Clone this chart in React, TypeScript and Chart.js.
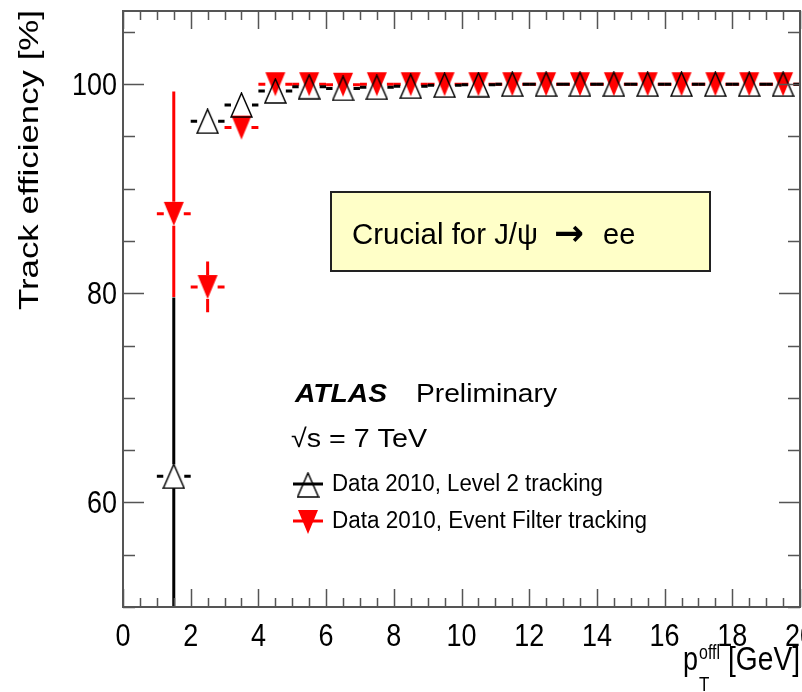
import React, { useEffect, useRef } from 'react';
import { Chart, registerables } from 'chart.js';

Chart.register(...registerables);

// ---------- data ----------
const binCenters = [1.5, 2.5, 3.5, 4.5, 5.5, 6.5, 7.5, 8.5, 9.5, 10.5, 11.5, 12.5, 13.5, 14.5, 15.5, 16.5, 17.5, 18.5, 19.5];
const binHalfWidth = 0.5;

const level2Label = 'Data 2010, Level 2 tracking';
const level2Eff = [62.5, 96.45, 98.0, 99.35, 99.75, 99.6, 99.7, 99.8, 99.9, 99.95, 100.0, 100.0, 100.0, 100.0, 100.0, 100.0, 100.0, 100.0, 100.0];
const level2ErrUp = [17.1, 0.3, 0.3, 0.2, 0.1, 0.1, 0.1, 0.1, 0.05, 0.05, 0.0, 0.0, 0.0, 0.0, 0.0, 0.0, 0.0, 0.0, 0.0];
const level2ErrDown = [15.0, 0.3, 0.3, 0.2, 0.1, 0.1, 0.1, 0.1, 0.05, 0.05, 0.05, 0.05, 0.05, 0.05, 0.05, 0.05, 0.05, 0.05, 0.05];

const efLabel = 'Data 2010, Event Filter tracking';
const efEff = [87.6, 80.6, 95.85, 100.0, 100.0, 99.95, 100.0, 100.0, 100.0, 100.0, 100.0, 100.0, 100.0, 100.0, 100.0, 100.0, 100.0, 100.0, 100.0];
const efErrUp = [11.7, 2.45, 0.3, 0.0, 0.0, 0.05, 0.0, 0.0, 0.0, 0.0, 0.0, 0.0, 0.0, 0.0, 0.0, 0.0, 0.0, 0.0, 0.0];
const efErrDown = [7.95, 2.4, 0.3, 0.1, 0.1, 0.1, 0.05, 0.05, 0.05, 0.05, 0.05, 0.05, 0.05, 0.05, 0.05, 0.05, 0.05, 0.05, 0.05];

const xMin = 0;
const xMax = 20;
const yMin = 50;
const yMax = 107;
const xTickLabels = [0, 2, 4, 6, 8, 10, 12, 14, 16, 18, 20];
const xMinorStep = 0.5;
const yTickLabels = [60, 80, 100];
const yMinorStep = 5;

const yTitle = 'Track efficiency [%]';
const boxTextLeft = 'Crucial for J/\u03c8';
const boxArrow = '\u2192';
const boxTextRight = 'ee';
const atlasText = 'ATLAS';
const prelimText = 'Preliminary';
const energyText = '\u221as = 7 TeV';

const FONT = '"Liberation Sans", Arial, Helvetica, sans-serif';
const RED = '#ff0000';
const FRAME = '#555555';

// ---------- helpers ----------
function makeTriangle(w: number, h: number, up: boolean, fill: string | null, stroke: string | null, lw: number) {
  const c = document.createElement('canvas');
  c.width = w + 2;
  c.height = h + 2;
  const g = c.getContext('2d')!;
  g.beginPath();
  if (up) {
    g.moveTo(c.width / 2, 1);
    g.lineTo(c.width - 1, c.height - 1);
    g.lineTo(1, c.height - 1);
  } else {
    g.moveTo(1, 1);
    g.lineTo(c.width - 1, 1);
    g.lineTo(c.width / 2, c.height - 1);
  }
  g.closePath();
  if (fill) {
    g.fillStyle = fill;
    g.fill();
  }
  if (stroke) {
    g.strokeStyle = stroke;
    g.lineWidth = lw;
    g.stroke();
  }
  return c;
}

function drawText(
  ctx: CanvasRenderingContext2D,
  text: string,
  x: number,
  y: number,
  font: string,
  color: string,
  targetW: number | null,
  sy = 1,
  align: CanvasTextAlign = 'left',
  rot = 0
) {
  ctx.save();
  ctx.font = font;
  const w = ctx.measureText(text).width;
  const sx = targetW ? targetW / w : 1;
  ctx.translate(x, y);
  if (rot) ctx.rotate(rot);
  ctx.scale(sx, sy);
  ctx.textAlign = align;
  ctx.textBaseline = 'alphabetic';
  ctx.fillStyle = color;
  ctx.fillText(text, 0, 0);
  ctx.restore();
}

// error bars drawn just before each dataset's markers
const errorBarPlugin = {
  id: 'rootErrorBars',
  beforeDatasetDraw(chart: any, args: any) {
    const ds = chart.data.datasets[args.index];
    const { ctx, chartArea } = chart;
    const xs = chart.scales.x;
    const ys = chart.scales.y;
    ctx.save();
    ctx.beginPath();
    ctx.rect(chartArea.left, chartArea.top, chartArea.right - chartArea.left, chartArea.bottom - chartArea.top);
    ctx.clip();
    ctx.strokeStyle = ds.errColor;
    ctx.lineWidth = 3;
    ctx.lineCap = 'butt';
    ds.data.forEach((p: any, i: number) => {
      const px = xs.getPixelForValue(p.x);
      const py = ys.getPixelForValue(p.y);
      const l = xs.getPixelForValue(p.x - binHalfWidth);
      const r = xs.getPixelForValue(p.x + binHalfWidth);
      const t = ys.getPixelForValue(p.y + ds.errUp[i]);
      const b = ys.getPixelForValue(p.y - ds.errDown[i]);
      const gx = ds.gapX;
      const gy = ds.gapY;
      ctx.beginPath();
      if (px - gx > l) {
        ctx.moveTo(l, py);
        ctx.lineTo(px - gx, py);
      }
      if (r > px + gx) {
        ctx.moveTo(px + gx, py);
        ctx.lineTo(r, py);
      }
      if (py - gy > t) {
        ctx.moveTo(px, t);
        ctx.lineTo(px, py - gy);
      }
      if (b > py + gy) {
        ctx.moveTo(px, py + gy);
        ctx.lineTo(px, b);
      }
      ctx.stroke();
    });
    ctx.restore();
  },
};

const framePlugin = {
  id: 'rootFrame',
  afterDraw(chart: any) {
    const { ctx, chartArea } = chart;
    const xs = chart.scales.x;
    const ys = chart.scales.y;
    const { left, right, top, bottom } = chartArea;

    ctx.save();
    ctx.strokeStyle = FRAME;
    ctx.lineWidth = 1.5;
    ctx.beginPath();
    // x ticks (bottom & top, pointing inside)
    for (let v = xMin; v <= xMax + 1e-9; v += xMinorStep) {
      const px = Math.round(xs.getPixelForValue(v)) + 0.5;
      const major = xTickLabels.some((t) => Math.abs(t - v) < 1e-6);
      const len = major ? 18 : 9;
      ctx.moveTo(px, bottom);
      ctx.lineTo(px, bottom - len);
      ctx.moveTo(px, top);
      ctx.lineTo(px, top + len);
    }
    // y ticks (left & right)
    for (let v = yMin; v <= yMax + 1e-9; v += yMinorStep) {
      const py = Math.round(ys.getPixelForValue(v)) + 0.5;
      const major = yTickLabels.some((t) => Math.abs(t - v) < 1e-6);
      const len = major ? 21 : 12;
      ctx.moveTo(left, py);
      ctx.lineTo(left + len, py);
      ctx.moveTo(right, py);
      ctx.lineTo(right - len, py);
    }
    ctx.stroke();
    ctx.lineWidth = 2;
    ctx.strokeRect(left, top, right - left, bottom - top);
    ctx.restore();

    // tick labels
    xTickLabels.forEach((v) => {
      drawText(ctx, String(v), xs.getPixelForValue(v), 646, `27px ${FONT}`, '#000', null, 1.15, 'center');
    });
    yTickLabels.forEach((v) => {
      const py = ys.getPixelForValue(v);
      drawText(ctx, String(v), 117, py + 11, `27px ${FONT}`, '#000', null, 1.15, 'right');
    });

    // axis titles
    drawText(ctx, yTitle, 38, 310, `27px ${FONT}`, '#000', 300, 1, 'left', -Math.PI / 2);
    drawText(ctx, '[GeV]', 800, 670, `27px ${FONT}`, '#000', 72, 1.2, 'right');
    drawText(ctx, 'p', 683, 670, `27px ${FONT}`, '#000', null, 1.2, 'left');
    drawText(ctx, 'offl', 699, 659, `17px ${FONT}`, '#000', 21, 1.2, 'left');
    drawText(ctx, 'T', 699, 691, `17px ${FONT}`, '#000', null, 1.2, 'left');

    // annotation box
    ctx.save();
    ctx.fillStyle = '#ffffc8';
    ctx.fillRect(331, 192, 379, 79);
    ctx.strokeStyle = '#222222';
    ctx.lineWidth = 2;
    ctx.strokeRect(331, 192, 379, 79);
    ctx.restore();
    drawText(ctx, boxTextLeft, 352, 244, `29px ${FONT}`, '#000', 186);
    drawText(ctx, boxArrow, 554, 245, `bold 36px "DejaVu Sans", ${FONT}`, '#000', 30, 1);
    drawText(ctx, boxTextRight, 603, 244, `29px ${FONT}`, '#000', null);

    // ATLAS label
    drawText(ctx, atlasText, 295, 402, `italic bold 26px ${FONT}`, '#000', 92);
    drawText(ctx, prelimText, 416, 402, `26px ${FONT}`, '#000', 141);
    drawText(ctx, energyText, 291, 447, `26px ${FONT}`, '#000', 136);

    // legend
    const ds = chart.data.datasets;
    const rows = [
      { y: 484, idx: 0 },
      { y: 521, idx: 1 },
    ];
    rows.forEach((row) => {
      const d = ds[row.idx];
      ctx.save();
      ctx.strokeStyle = d.errColor;
      ctx.lineWidth = 3;
      ctx.beginPath();
      ctx.moveTo(293, row.y);
      ctx.lineTo(323, row.y);
      ctx.stroke();
      const img = d.pointStyle as HTMLCanvasElement;
      ctx.drawImage(img, 308 - img.width / 2, row.y - img.height / 2 + 1);
      ctx.restore();
      drawText(ctx, d.label, 332, row.y + 7, `23px ${FONT}`, '#000', row.idx === 0 ? 271 : 315);
    });
  },
};

export default function App() {
  const ref = useRef<HTMLCanvasElement | null>(null);

  useEffect(() => {
    if (!ref.current) return;
    const blackTri = makeTriangle(21, 24, true, null, '#000000', 1.5);
    const redTri = makeTriangle(20, 24, false, RED, null, 0);

    const chart = new Chart(ref.current, {
      type: 'scatter',
      data: {
        datasets: [
          {
            label: level2Label,
            data: binCenters.map((x, i) => ({ x, y: level2Eff[i] })),
            pointStyle: blackTri,
            pointRadius: 10,
            showLine: false,
            errUp: level2ErrUp,
            errDown: level2ErrDown,
            errColor: '#000000',
            gapX: 10.5,
            gapY: 12,
          } as any,
          {
            label: efLabel,
            data: binCenters.map((x, i) => ({ x, y: efEff[i] })),
            pointStyle: redTri,
            pointRadius: 10,
            showLine: false,
            errUp: efErrUp,
            errDown: efErrDown,
            errColor: RED,
            gapX: 10,
            gapY: 12,
          } as any,
        ],
      },
      options: {
        responsive: false,
        animation: false,
        devicePixelRatio: 1,
        layout: { padding: { left: 123, top: 10, right: 40, bottom: 85 } },
        scales: {
          x: { type: 'linear', min: xMin, max: xMax, display: false },
          y: { type: 'linear', min: yMin, max: yMax, display: false },
        },
        plugins: {
          legend: { display: false },
          tooltip: { enabled: false },
        },
      },
      plugins: [errorBarPlugin, framePlugin],
    });
    return () => chart.destroy();
  }, []);

  return (
    <div
      style={{
        position: 'fixed',
        left: 0,
        top: 0,
        width: 802,
        height: 692,
        overflow: 'hidden',
        background: '#ffffff',
      }}
    >
      <canvas ref={ref} width={840} height={692} style={{ width: 840, height: 692, display: 'block' }} />
    </div>
  );
}
